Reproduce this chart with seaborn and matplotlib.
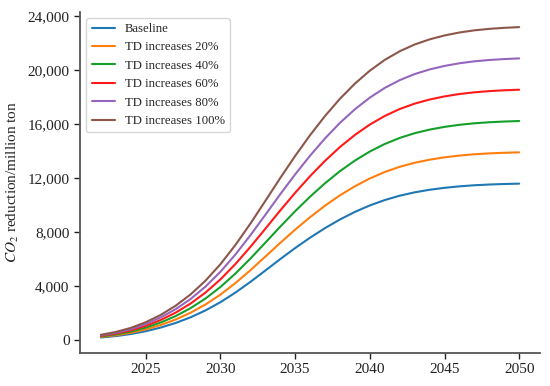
import pandas as pd
import matplotlib.pyplot as plt
import matplotlib.ticker as mticker
import seaborn as sns

years = list(range(2022, 2051))

baseline = [200, 305, 455, 665, 935, 1275, 1695, 2205, 2815, 3525, 4315, 5155, 6005, 6825, 7595,
            8305, 8945, 9505, 9985, 10385, 10705, 10955, 11145, 11290, 11400, 11480, 11535, 11573, 11600]
td20 = [240, 366, 546, 798, 1122, 1530, 2034, 2646, 3378, 4230, 5178, 6186, 7206, 8190, 9114,
        9966, 10734, 11406, 11982, 12462, 12846, 13146, 13374, 13548, 13680, 13776, 13842, 13888, 13920]
td40 = [280, 427, 637, 931, 1309, 1785, 2373, 3087, 3941, 4935, 6041, 7217, 8407, 9555, 10633,
        11627, 12523, 13307, 13979, 14539, 14987, 15337, 15603, 15806, 15960, 16072, 16149, 16202, 16240]
td60 = [320, 488, 728, 1064, 1496, 2040, 2712, 3528, 4504, 5640, 6904, 8248, 9608, 10920, 12152,
        13288, 14312, 15208, 15976, 16616, 17128, 17528, 17832, 18064, 18240, 18368, 18456, 18517, 18560]
td80 = [360, 549, 819, 1197, 1683, 2295, 3051, 3969, 5067, 6345, 7767, 9279, 10809, 12285, 13671,
        14949, 16101, 17109, 17973, 18693, 19269, 19719, 20061, 20322, 20520, 20664, 20763, 20831, 20880]
td100 = [400, 610, 910, 1330, 1870, 2550, 3390, 4410, 5630, 7050, 8630, 10310, 12010, 13650, 15190,
         16610, 17890, 19010, 19970, 20770, 21410, 21910, 22290, 22580, 22800, 22960, 23070, 23146, 23200]

labels = ["Baseline", "TD increases 20%", "TD increases 40%",
          "TD increases 60%", "TD increases 80%", "TD increases 100%"]
series = [baseline, td20, td40, td60, td80, td100]
colors = ["#1f77b4", "#ff7f0e", "#14a02a", "#ff1a1a", "#9467bd", "#8c564b"]

rows = []
for lab, vals in zip(labels, series):
    for y, v in zip(years, vals):
        rows.append({"year": y, "value": v, "scenario": lab})
df = pd.DataFrame(rows)

sns.set_style("ticks")
plt.rcParams["font.family"] = ["Liberation Serif", "DejaVu Serif"]
plt.rcParams["mathtext.fontset"] = "stix"

fig = plt.figure(figsize=(5.5, 3.86), dpi=100)
ax = fig.add_axes([0.1455, 0.0855, 0.8365, 0.8845])

sns.lineplot(data=df, x="year", y="value", hue="scenario", hue_order=labels,
             palette=colors, linewidth=1.5, ax=ax)

ax.set_yticks(range(0, 24001, 4000))
ax.yaxis.set_major_formatter(mticker.FuncFormatter(lambda v, p: f"{int(v):,}"))
ax.set_xticks([2025, 2030, 2035, 2040, 2045, 2050])
ax.set_xlabel("")
ax.set_ylabel("$CO_2$ reduction/million ton", fontsize=11, labelpad=5)
ax.tick_params(labelsize=11, colors="#222222", length=4, width=1)
for s in ["left", "bottom"]:
    ax.spines[s].set_color("#555555")
    ax.spines[s].set_linewidth(1.3)
sns.despine(ax=ax)

ax.legend(loc="upper left", fontsize=9.2, frameon=True, borderaxespad=0.5,
          handlelength=1.8)

fig.savefig("out.png", dpi=100)
